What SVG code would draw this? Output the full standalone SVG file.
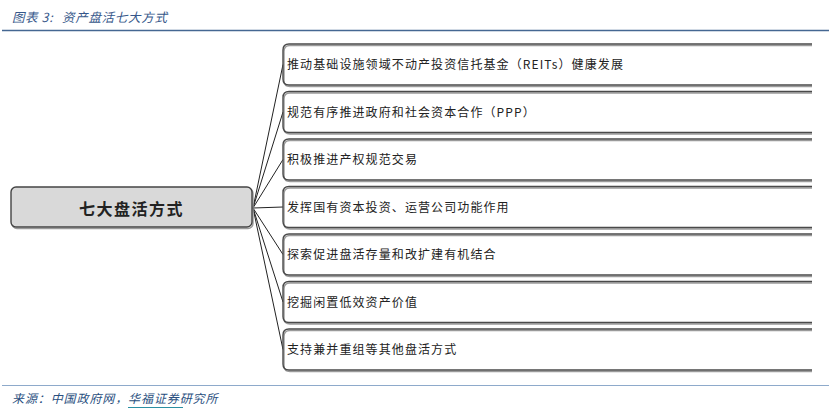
<svg xmlns="http://www.w3.org/2000/svg" width="829" height="412" viewBox="0 0 829 412">
<style>
.t{font-family:"Noto Sans CJK SC","Liberation Serif",serif;font-size:12px;fill:#222;letter-spacing:1.1px}
.box{fill:none;stroke:#4a4a4a;stroke-width:1.4}
.sh{fill:none;stroke:#9a9a9a;stroke-width:1.4}
.con line{stroke:#222;stroke-width:1}
.hd{font-family:"Noto Sans CJK SC","Liberation Serif",serif;font-size:12.5px;font-style:italic;fill:#36578a;letter-spacing:0.6px}
.ft{font-family:"Noto Sans CJK SC","Liberation Serif",serif;font-size:12px;font-style:italic;fill:#2a4f80;letter-spacing:0.9px}
</style>
<rect width="829" height="412" fill="#fff"/>
<text class="hd" x="12" y="22">图表 3:<tspan x="62" letter-spacing="0.7">资产盘活七大方式</tspan></text>
<line x1="2" y1="30.5" x2="829" y2="30.5" stroke="#456792" stroke-width="1.5"/>

<g id="connectors" class="con">
<line x1="253" y1="208" x2="283" y2="64.5"/>
<line x1="253" y1="208" x2="283" y2="112"/>
<line x1="253" y1="208" x2="283" y2="159.5"/>
<line x1="253" y1="208" x2="283" y2="207"/>
<line x1="253" y1="208" x2="283" y2="254.5"/>
<line x1="253" y1="208" x2="283" y2="302"/>
<line x1="253" y1="208" x2="283" y2="349.5"/>
</g>

<g id="center">
<rect x="12" y="188.5" width="241" height="40" rx="5" fill="none" stroke="#9a9a9a" stroke-width="1.4"/>
<rect x="11" y="187" width="241" height="40" rx="5" fill="#d9d9d9" stroke="#444" stroke-width="1.4"/>
<text x="131.5" y="215" text-anchor="middle" font-family="'Noto Sans CJK SC','Liberation Serif',serif" font-size="16" font-weight="bold" fill="#222" letter-spacing="1.5">七大盘活方式</text>
</g>

<g id="n1">
<path class="sh" d="M812 45.5H290Q284 45.5 284 51.5V80.5Q284 86.5 290 86.5H812"/>
<path class="box" d="M812 44H289Q283 44 283 50V79Q283 85 289 85H812"/>
<text class="t" x="287" y="69">推动基础设施领域不动产投资信托基金（REITs）健康发展</text>
</g>
<g id="n2">
<path class="sh" d="M812 93H290Q284 93 284 99V128Q284 134 290 134H812"/>
<path class="box" d="M812 91.5H289Q283 91.5 283 97.5V126.5Q283 132.5 289 132.5H812"/>
<text class="t" x="287" y="116.5">规范有序推进政府和社会资本合作（PPP）</text>
</g>
<g id="n3">
<path class="sh" d="M812 140.5H290Q284 140.5 284 146.5V175.5Q284 181.5 290 181.5H812"/>
<path class="box" d="M812 139H289Q283 139 283 145V174Q283 180 289 180H812"/>
<text class="t" x="287" y="164">积极推进产权规范交易</text>
</g>
<g id="n4">
<path class="sh" d="M812 188H290Q284 188 284 194V223Q284 229 290 229H812"/>
<path class="box" d="M812 186.5H289Q283 186.5 283 192.5V221.5Q283 227.5 289 227.5H812"/>
<text class="t" x="287" y="211.5">发挥国有资本投资、运营公司功能作用</text>
</g>
<g id="n5">
<path class="sh" d="M812 235.5H290Q284 235.5 284 241.5V270.5Q284 276.5 290 276.5H812"/>
<path class="box" d="M812 234H289Q283 234 283 240V269Q283 275 289 275H812"/>
<text class="t" x="287" y="259">探索促进盘活存量和改扩建有机结合</text>
</g>
<g id="n6">
<path class="sh" d="M812 283H290Q284 283 284 289V318Q284 324 290 324H812"/>
<path class="box" d="M812 281.5H289Q283 281.5 283 287.5V316.5Q283 322.5 289 322.5H812"/>
<text class="t" x="287" y="306.5">挖掘闲置低效资产价值</text>
</g>
<g id="n7">
<path class="sh" d="M812 330.5H290Q284 330.5 284 336.5V365.5Q284 371.5 290 371.5H812"/>
<path class="box" d="M812 329H289Q283 329 283 335V364Q283 370 289 370H812"/>
<text class="t" x="287" y="354">支持兼并重组等其他盘活方式</text>
</g>

<line x1="2" y1="385.5" x2="829" y2="385.5" stroke="#8eaacb" stroke-width="1.2"/>
<text class="ft" x="12" y="403">来源：中国政府网，华福证券研究所</text>
<line x1="128" y1="407.5" x2="183" y2="407.5" stroke="#2b8fa3" stroke-width="1.2"/>
</svg>
